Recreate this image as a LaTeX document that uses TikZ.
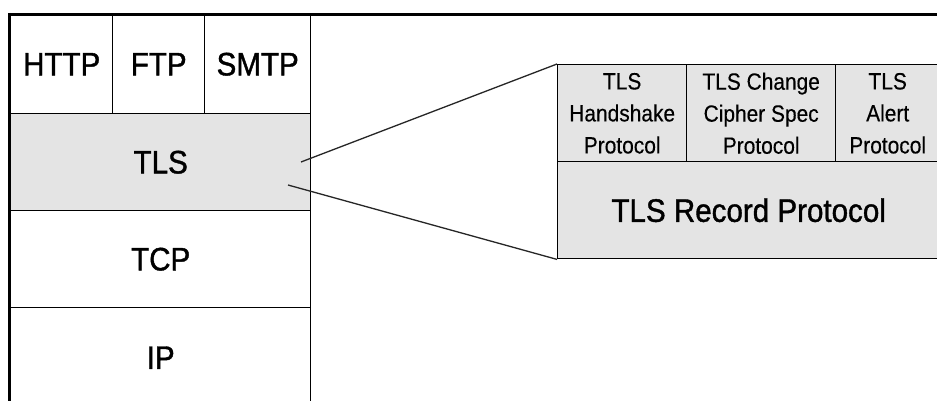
\documentclass[tikz,border=0pt]{standalone}
\usepackage{fontspec}
\setmainfont{Liberation Sans}
\newfontfamily\bigfont[FakeStretch=0.91,FakeBold=1.2]{Liberation Sans}
\newfontfamily\smallfont[FakeStretch=0.89,FakeBold=0.3]{Liberation Sans}
\definecolor{layergray}{HTML}{E4E4E4}
\begin{document}
\begin{tikzpicture}[x=1pt,y=-1pt,
  cell/.style={draw=black, line width=1.4pt, inner sep=0pt, anchor=north west,
    font=\bigfont\fontsize{32.5}{36}\selectfont},
  shaded/.style={cell, fill=layergray},
  subcell/.style={shaded, align=center, text depth=0pt,
    font=\smallfont\fontsize{23.5}{32}\selectfont},
  link/.style={draw=black!85, line width=1.3pt},
  frame/.style={draw=black, line width=3.5pt}]
\useasboundingbox (0,0) rectangle (937,401);
\clip (0,0) rectangle (937,401);
\fill[white] (0,0) rectangle (937,401);

% protocol stack on the left
\node[cell, minimum width=102pt, minimum height=99pt] (http) at (10,14) {HTTP};
\node[cell, minimum width=92pt,  minimum height=99pt] (ftp)  at (112,14) {FTP};
\node[cell, minimum width=106pt, minimum height=99pt] (smtp) at (204,14) {SMTP};
\node[shaded, minimum width=300pt, minimum height=97pt] (tls) at (10,113) {TLS};
\node[cell, minimum width=300pt, minimum height=97pt] (tcp) at (10,210) {TCP};
\node[cell, minimum width=300pt, minimum height=100pt] (ip) at (10,307) {IP};

% TLS sub-layers on the right
\node[subcell, minimum width=129pt, minimum height=97pt] (hs) at (557,64)
  {TLS\\Handshake\\Protocol};
\node[subcell, minimum width=149pt, minimum height=97pt] (ccs) at (686,64)
  {TLS Change\\Cipher Spec\\Protocol};
\node[subcell, minimum width=104pt, minimum height=97pt] (alert) at (835,64)
  {TLS\\Alert\\Protocol};
\node[shaded, minimum width=382pt, minimum height=97pt] (rec) at (557,161)
  {TLS Record Protocol};

% zoom lines from the TLS layer to its expansion
\coordinate (z1) at (301,162);
\coordinate (z2) at (288,185);
\draw[link] (z1) -- (hs.north west);
\draw[link] (z2) -- (rec.south west);

% heavy frame edges
\draw[frame] (8,14.5) -- (940,14.5);
\draw[frame] (9.5,13) -- (9.5,402);
\end{tikzpicture}
\end{document}
